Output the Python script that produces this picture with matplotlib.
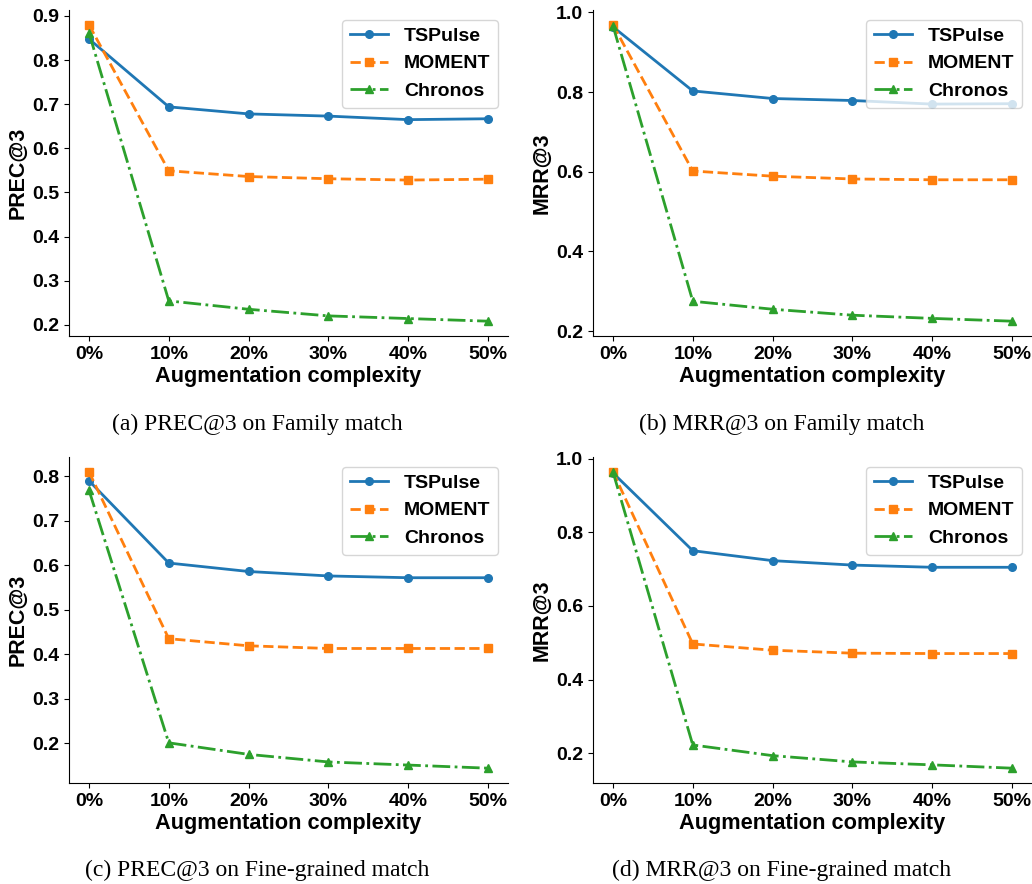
import matplotlib
matplotlib.use("Agg")
import matplotlib.pyplot as plt

plt.rcParams['font.family'] = ['Liberation Sans', 'DejaVu Sans']

x_labels = ['0%', '10%', '20%', '30%', '40%', '50%']
models = ['TSPulse', 'MOMENT', 'Chronos']

# (a) PREC@3 on Family match
a_tspulse = [0.848, 0.694, 0.678, 0.673, 0.665, 0.667]
a_moment = [0.880, 0.549, 0.536, 0.531, 0.528, 0.530]
a_chronos = [0.862, 0.254, 0.235, 0.220, 0.214, 0.208]

# (b) MRR@3 on Family match
b_tspulse = [0.964, 0.803, 0.784, 0.779, 0.770, 0.771]
b_moment = [0.969, 0.602, 0.589, 0.582, 0.580, 0.580]
b_chronos = [0.967, 0.275, 0.255, 0.240, 0.232, 0.225]

# (c) PREC@3 on Fine-grained match
c_tspulse = [0.790, 0.605, 0.586, 0.576, 0.572, 0.572]
c_moment = [0.810, 0.435, 0.419, 0.413, 0.413, 0.413]
c_chronos = [0.769, 0.201, 0.175, 0.158, 0.151, 0.144]

# (d) MRR@3 on Fine-grained match
d_tspulse = [0.961, 0.750, 0.723, 0.711, 0.705, 0.705]
d_moment = [0.964, 0.497, 0.480, 0.472, 0.471, 0.471]
d_chronos = [0.964, 0.223, 0.194, 0.177, 0.169, 0.160]

prec_ticks_a = [0.2, 0.3, 0.4, 0.5, 0.6, 0.7, 0.8, 0.9]
prec_ticks_c = [0.2, 0.3, 0.4, 0.5, 0.6, 0.7, 0.8]
mrr_ticks = [0.2, 0.4, 0.6, 0.8, 1.0]

captions = ['(a) PREC@3 on Family match', '(b) MRR@3 on Family match',
            '(c) PREC@3 on Fine-grained match', '(d) MRR@3 on Fine-grained match']

W, H = 1032, 884
fig = plt.figure(figsize=(W / 100, H / 100), dpi=100)

def px_axes(left, top, right, bottom):
    return fig.add_axes([left / W, 1 - bottom / H, (right - left) / W, (bottom - top) / H])

panels = [
    (px_axes(69, 10, 508, 336), (a_tspulse, a_moment, a_chronos), 'PREC@3', prec_ticks_a),
    (px_axes(593, 10, 1032, 336), (b_tspulse, b_moment, b_chronos), 'MRR@3', mrr_ticks),
    (px_axes(69, 457, 508, 783), (c_tspulse, c_moment, c_chronos), 'PREC@3', prec_ticks_c),
    (px_axes(593, 457, 1032, 783), (d_tspulse, d_moment, d_chronos), 'MRR@3', mrr_ticks),
]

styles = [dict(color='#1f77b4', linestyle='-', marker='o'),
          dict(color='#ff7f0e', linestyle='--', marker='s'),
          dict(color='#2ca02c', linestyle='-.', marker='^')]

xs = list(range(len(x_labels)))
for ax, series, ylabel, yticks in panels:
    for name, vals, st in zip(models, series, styles):
        ax.plot(xs, vals, label=name, linewidth=2, markersize=5.5, **st)
    ax.set_xticks(xs)
    ax.set_xticklabels(x_labels, fontsize=14, fontweight='bold')
    ax.set_yticks(yticks)
    ax.set_yticklabels([f'{t:.1f}' for t in yticks], fontsize=14, fontweight='bold')
    ax.set_xlabel('Augmentation complexity', fontsize=15.7, fontweight='bold', labelpad=2.5)
    ax.set_ylabel(ylabel, fontsize=15.5, fontweight='bold', labelpad=2.5)
    ax.spines['top'].set_visible(False)
    ax.spines['right'].set_visible(False)
    ax.legend(loc='upper right', prop={'size': 14, 'weight': 'bold'})

cap_pos = [(257, 424), (782, 424), (257, 870), (782, 870)]
for (cx, cy), cap in zip(cap_pos, captions):
    fig.text(cx / W, 1 - cy / H, cap, ha='center', va='center', fontsize=17,
             family=['Liberation Serif', 'DejaVu Serif'])

fig.savefig('out.png', dpi=100)
